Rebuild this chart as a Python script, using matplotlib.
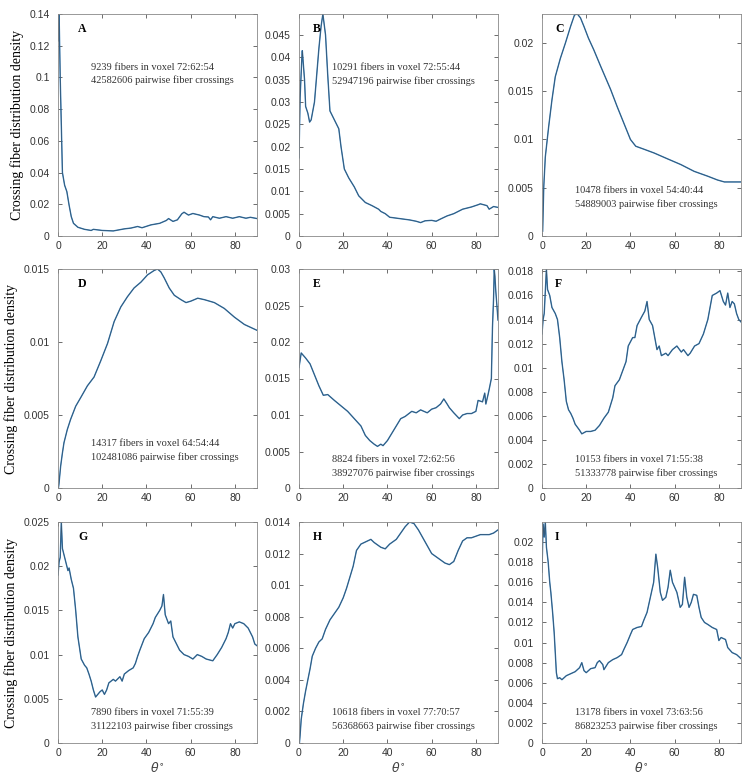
import numpy as np
import matplotlib.pyplot as plt
import matplotlib.ticker as ticker

# ---- data (theta in degrees, density) ----
a_x = [0, 0.2, 0.5, 1, 1.5, 2, 3, 4, 5, 6, 7, 9, 12, 15, 16, 20, 25, 30, 33, 36, 38, 42, 46, 49, 50,
       52, 54, 56, 57, 59, 61, 64, 66, 68, 69, 70, 73, 76, 79, 82, 85, 87, 90]
a_y = [0.14, 0.123, 0.14, 0.10, 0.07, 0.040, 0.032, 0.028, 0.0196, 0.0122, 0.008, 0.0055, 0.0042, 0.0035,
       0.0042, 0.0035, 0.0032, 0.0045, 0.005, 0.006, 0.0052, 0.007, 0.008, 0.0098, 0.011, 0.0092, 0.0102,
       0.014, 0.015, 0.0132, 0.0142, 0.0132, 0.0122, 0.012, 0.0102, 0.0122, 0.0112, 0.0122, 0.0112,
       0.0122, 0.0112, 0.0118, 0.011]

b_x = [0, 0.5, 1.3, 1.5, 2.5, 3, 4, 4.8, 5.5, 7, 8, 9, 10, 10.8, 12, 13, 14, 15.5, 17, 18, 19, 20.5,
       22.5, 25, 27, 30, 33, 36, 37, 39, 41, 44, 47, 50, 53, 55, 57, 60, 62, 64, 67, 70, 74, 78, 81, 82,
       85, 86, 88, 90]
b_y = [0.0175, 0.031, 0.040, 0.0415, 0.035, 0.029, 0.0275, 0.0255, 0.026, 0.030, 0.036, 0.042, 0.047,
       0.0497, 0.045, 0.036, 0.028, 0.0265, 0.025, 0.024, 0.020, 0.015, 0.013, 0.011, 0.009, 0.0075,
       0.0068, 0.006, 0.0055, 0.005, 0.0042, 0.004, 0.0038, 0.0036, 0.0033, 0.003, 0.0034, 0.0035,
       0.0033, 0.0038, 0.0045, 0.005, 0.006, 0.0065, 0.007, 0.0072, 0.0068, 0.006, 0.0066, 0.0064]

c_x = [0.3, 0.8, 1.5, 3, 4.5, 6, 8.3, 10.6, 12.9, 14.7, 16, 17.4, 19, 21, 23.4, 26.5, 31, 34, 37, 40,
       42.4, 46, 50.7, 56.7, 62.8, 68.8, 74.9, 79.4, 82.5, 90]
c_y = [0.0005, 0.0051, 0.0082, 0.0113, 0.0141, 0.0165, 0.0184, 0.020, 0.0217, 0.0229, 0.0230, 0.0226,
       0.0217, 0.0205, 0.0193, 0.0176, 0.0152, 0.0134, 0.0117, 0.010, 0.0093, 0.009, 0.0086, 0.008,
       0.0074, 0.0067, 0.0062, 0.0058, 0.0056, 0.0056]

d_x = [0.2, 0.45, 1.2, 2, 2.7, 4.2, 5.7, 8, 10.3, 13.3, 16.3, 19.3, 22.4, 25.4, 28.4, 31.4, 34.4, 37.5,
       40.5, 43.5, 45, 46.5, 48, 50.3, 52.6, 55.6, 57.9, 60.1, 63.2, 66.2, 70.7, 75.2, 79.8, 84.3, 90]
d_y = [0.0, 0.0003, 0.0015, 0.0024, 0.0031, 0.004, 0.0047, 0.0056, 0.0062, 0.007, 0.0076, 0.0087,
       0.0099, 0.0114, 0.0124, 0.0131, 0.0137, 0.0141, 0.0146, 0.0149, 0.015, 0.0148, 0.0144, 0.0137,
       0.0132, 0.0129, 0.0127, 0.0128, 0.013, 0.0129, 0.0127, 0.0123, 0.0117, 0.0112, 0.0108]

e_x = [0, 1, 3, 5, 7, 9, 11, 13, 16, 18, 20, 22, 25, 28, 30, 32, 34, 35.5, 37, 38, 40, 42, 44, 46, 48,
       51, 53, 55, 58, 60, 62, 64, 65.5, 67, 68, 70, 72.5, 74, 76, 78, 80, 81, 83, 84, 84.5, 85.5, 86,
       87, 87.5, 88, 88.3, 88.6, 89, 89.5, 90]
e_y = [0.0165, 0.0185, 0.0178, 0.017, 0.0155, 0.014, 0.0127, 0.0128, 0.012, 0.0115, 0.011, 0.0105,
       0.0095, 0.0085, 0.0072, 0.0065, 0.006, 0.0057, 0.006, 0.0058, 0.0065, 0.0075, 0.0085, 0.0095,
       0.0098, 0.0105, 0.0103, 0.0107, 0.0103, 0.0108, 0.011, 0.0115, 0.0122, 0.0115, 0.011, 0.0103,
       0.0095, 0.010, 0.0102, 0.0102, 0.0105, 0.012, 0.0118, 0.013, 0.0115, 0.0128, 0.0135, 0.015,
       0.022, 0.026, 0.030, 0.029, 0.027, 0.025, 0.023]

f_x = [0, 0.5, 1, 2, 2.5, 3.5, 4.5, 6, 7, 8, 9, 10, 11, 12, 13, 14, 15, 17, 18, 20, 22, 24, 26, 28, 30,
       32, 33, 35, 37, 38, 39, 41, 42, 43, 45, 46.5, 47.5, 48.5, 50, 51, 52, 53, 54, 56, 57, 59, 61, 63,
       64, 66, 67, 69, 71, 73, 75, 76, 77, 79, 80.5, 82, 83, 84, 85, 86, 87, 88, 89, 90]
f_y = [0.0128, 0.014, 0.0145, 0.0182, 0.0165, 0.016, 0.015, 0.0145, 0.014, 0.0125, 0.0105, 0.009,
       0.0072, 0.0065, 0.0062, 0.0058, 0.0053, 0.0048, 0.0045, 0.0047, 0.0047, 0.0048, 0.0052, 0.0058,
       0.0063, 0.0075, 0.0085, 0.009, 0.010, 0.0105, 0.0118, 0.0125, 0.0125, 0.0135, 0.0142, 0.0147,
       0.0155, 0.014, 0.0135, 0.0125, 0.0115, 0.0118, 0.011, 0.0112, 0.011, 0.0115, 0.0118, 0.0113,
       0.0115, 0.011, 0.0112, 0.0118, 0.012, 0.0128, 0.014, 0.015, 0.016, 0.0162, 0.0164, 0.0155,
       0.0152, 0.0162, 0.015, 0.0155, 0.0153, 0.0145, 0.014, 0.0138]

g_x = [0, 0.5, 1, 1.5, 2, 2.5, 3.5, 4.5, 5, 6, 7, 8, 9, 10.5, 12, 13, 14, 15, 16, 17, 18, 19, 20, 21,
       22, 23, 25, 26, 28, 29, 30, 32, 34, 35, 36, 37, 39, 41, 43, 44, 46, 47, 47.7, 48.5, 50, 51, 52,
       54, 55, 57, 59, 61, 63, 65, 67, 70, 72, 74, 76, 77, 78, 79, 80, 82, 84, 86, 88, 89, 90]
g_y = [0.019, 0.0205, 0.021, 0.025, 0.022, 0.0215, 0.0205, 0.0195, 0.0198, 0.0185, 0.0175, 0.015,
       0.012, 0.0095, 0.0088, 0.0085, 0.0078, 0.007, 0.006, 0.0052, 0.0055, 0.0058, 0.006, 0.0055,
       0.006, 0.0068, 0.0072, 0.007, 0.0075, 0.007, 0.0078, 0.0082, 0.0085, 0.009, 0.0098, 0.0105,
       0.0118, 0.0125, 0.0135, 0.0142, 0.015, 0.0155, 0.0168, 0.0145, 0.0135, 0.0138, 0.012, 0.011,
       0.0105, 0.010, 0.0098, 0.0095, 0.010, 0.0098, 0.0095, 0.0093, 0.010, 0.0108, 0.0118, 0.0125,
       0.0135, 0.013, 0.0135, 0.0137, 0.0135, 0.013, 0.012, 0.0112, 0.011]

h_x = [0.2, 0.5, 1, 2, 3, 4, 5, 6, 7.5, 9, 10.5, 12, 14, 16, 18, 20, 21.5, 23, 24.5, 26, 28, 31, 32.5,
       34, 37, 39, 41, 44, 46, 48, 50, 52, 54, 56, 58, 60, 62, 64, 66, 68, 70, 72, 74, 76, 78, 80, 82,
       84, 86, 88, 90]
h_y = [0.0, 0.0005, 0.0015, 0.0025, 0.0033, 0.004, 0.0047, 0.0055, 0.006, 0.0064, 0.0066, 0.0072,
       0.0078, 0.0082, 0.0086, 0.0092, 0.0098, 0.0105, 0.0112, 0.0122, 0.0126, 0.0128, 0.0129, 0.0127,
       0.0124, 0.0123, 0.0126, 0.0129, 0.0133, 0.0137, 0.014, 0.0139, 0.0135, 0.013, 0.0125, 0.012,
       0.0118, 0.0116, 0.0114, 0.0113, 0.0115, 0.0122, 0.0128, 0.013, 0.013, 0.0131, 0.0132, 0.0132,
       0.0132, 0.0133, 0.0135]

i_x = [0, 0.5, 1, 1.5, 2, 2.8, 3.5, 4, 4.8, 5.5, 6, 6.5, 7, 8, 9, 10, 11, 13, 15, 17, 18, 19, 20, 22,
       24, 25, 26, 27.5, 28, 30, 32, 34, 36, 37, 38.5, 40, 41, 43, 45, 46, 47.5, 49, 50.5, 51.5, 52.3,
       53.5, 54.5, 56, 57, 58, 59, 61, 62.5, 63.5, 64.5, 65.5, 66.5, 67.5, 68.5, 70, 71, 72, 73.5, 75,
       77, 79, 80, 81, 83, 84, 86, 88, 90]
i_y = [0.017, 0.0218, 0.0205, 0.022, 0.0195, 0.018, 0.016, 0.015, 0.013, 0.011, 0.009, 0.007, 0.0064,
       0.0065, 0.0063, 0.0065, 0.0067, 0.0069, 0.0071, 0.0075, 0.008, 0.0072, 0.007, 0.0074, 0.0075,
       0.008, 0.0082, 0.0078, 0.0073, 0.008, 0.0083, 0.0085, 0.0088, 0.0093, 0.010, 0.0108, 0.0113,
       0.0115, 0.0116, 0.0122, 0.013, 0.0145, 0.016, 0.0188, 0.0175, 0.015, 0.0142, 0.0145, 0.0155,
       0.0172, 0.016, 0.015, 0.0135, 0.0138, 0.0165, 0.0145, 0.0135, 0.014, 0.0148, 0.0147, 0.0135,
       0.0125, 0.012, 0.0118, 0.0115, 0.0113, 0.0102, 0.0105, 0.0103, 0.0095, 0.009, 0.0088, 0.0084]

letters = ['A', 'B', 'C', 'D', 'E', 'F', 'G', 'H', 'I']
fibers = ['9239 fibers in voxel 72:62:54', '10291 fibers in voxel 72:55:44', '10478 fibers in voxel 54:40:44',
          '14317 fibers in voxel 64:54:44', '8824 fibers in voxel 72:62:56', '10153 fibers in voxel 71:55:38',
          '7890 fibers in voxel 71:55:39', '10618 fibers in voxel 77:70:57', '13178 fibers in voxel 73:63:56']
crossings = ['42582606 pairwise fiber crossings', '52947196 pairwise fiber crossings',
             '54889003 pairwise fiber crossings', '102481086 pairwise fiber crossings',
             '38927076 pairwise fiber crossings', '51333778 pairwise fiber crossings',
             '31122103 pairwise fiber crossings', '56368663 pairwise fiber crossings',
             '86823253 pairwise fiber crossings']
yticks = [np.arange(0, 0.141, 0.02), np.arange(0, 0.0451, 0.005), np.arange(0, 0.0201, 0.005),
          np.arange(0, 0.0151, 0.005), np.arange(0, 0.0301, 0.005), np.arange(0, 0.0181, 0.002),
          np.arange(0, 0.0251, 0.005), np.arange(0, 0.0141, 0.002), np.arange(0, 0.0201, 0.002)]
series = [(a_x, a_y), (b_x, b_y), (c_x, c_y), (d_x, d_y), (e_x, e_y),
          (f_x, f_y), (g_x, g_y), (h_x, h_y), (i_x, i_y)]
# where the two annotation lines sit (axes fraction)
text_y = [(0.76, 0.70), (0.757, 0.698), (0.207, 0.144), (0.205, 0.14), (0.128, 0.068),
          (0.13, 0.068), (0.14, 0.077), (0.14, 0.077), (0.14, 0.077)]
letter_x = [0.1, 0.07, 0.065]

def tick_fmt(v, pos):
    if abs(v) < 1e-12:
        return '0'
    return f'{v:.4f}'.rstrip('0').rstrip('.')

fig = plt.figure(figsize=(7.54, 7.82), dpi=100)
lefts = [58, 299, 542]
tops = [14, 269, 522]
heights = [222, 219, 221]
w_px = 199
W, H = 754, 782

for k, (xs, ys) in enumerate(series):
    r, c = divmod(k, 3)
    ax = fig.add_axes([lefts[c] / W, 1 - (tops[r] + heights[r]) / H, w_px / W, heights[r] / H])
    ax.plot(xs, ys, color='#2f7ab8', lw=1.0)
    ax.plot(xs, ys, color='#3c4650', lw=0.5, alpha=0.7)
    ax.set_xlim(0, 90)
    ax.set_ylim(0, max(ys))
    ax.set_xticks([0, 20, 40, 60, 80])
    ax.set_yticks(yticks[k])
    ax.yaxis.set_major_formatter(ticker.FuncFormatter(tick_fmt))
    ax.tick_params(direction='in', top=True, right=True, length=3, width=0.6,
                   labelsize=7.5, colors='#555555', labelcolor='#333333')
    ax.tick_params(axis='y', pad=6)
    for lab in ax.get_xticklabels() + ax.get_yticklabels():
        lab.set_family('Liberation Sans')
    for s in ax.spines.values():
        s.set_color('#888888')
        s.set_linewidth(0.6)
    ax.text(letter_x[c], 0.933, letters[k], transform=ax.transAxes, family='Liberation Serif',
            fontweight='bold', fontsize=8.5, va='center', ha='left')
    y1, y2 = text_y[k]
    ax.text(0.167, y1, fibers[k], transform=ax.transAxes, family='Liberation Serif', fontsize=7.5,
            color='#333333', va='center')
    ax.text(0.167, y2, crossings[k], transform=ax.transAxes, family='Liberation Serif', fontsize=7.5,
            color='#333333', va='center')
    if c == 0:
        ax.set_ylabel('Crossing fiber distribution density', family='Liberation Serif',
                      fontsize=10, labelpad=4)
    if r == 2:
        ax.set_xlabel(r'$\theta^{\circ}$', fontsize=9, color='#444444', labelpad=2)

plt.savefig('out.png', dpi=100)
